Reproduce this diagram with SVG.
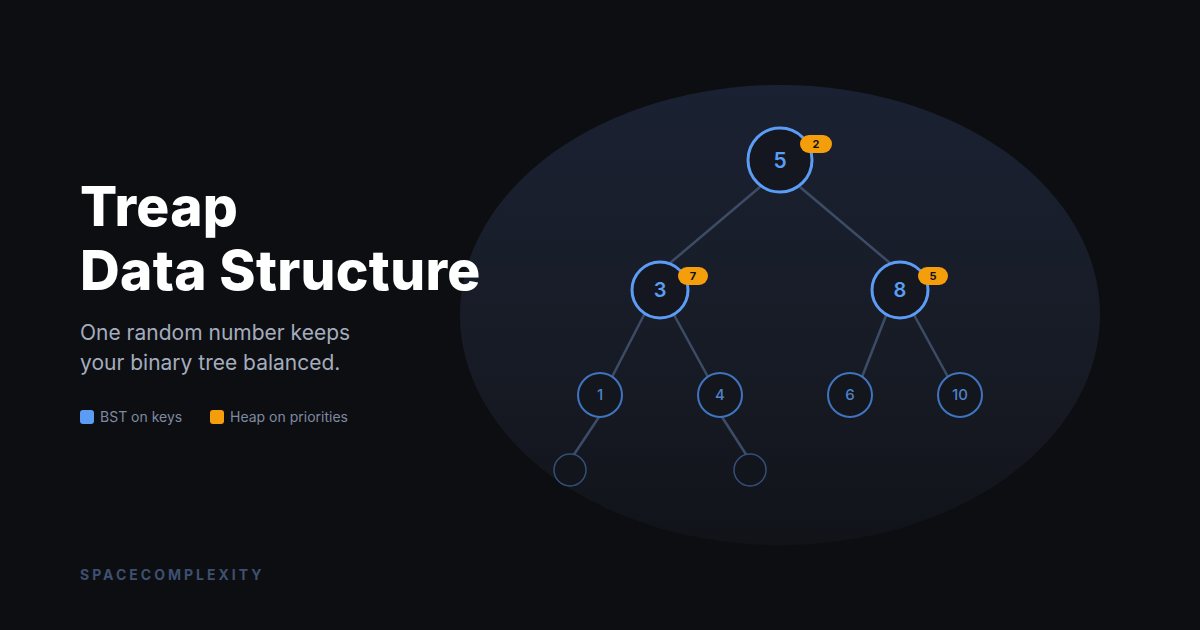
<svg xmlns="http://www.w3.org/2000/svg" width="1200" height="630" viewBox="0 0 1200 630">
<defs>
<linearGradient id="eg" x1="0" y1="0" x2="0" y2="1">
<stop offset="0" stop-color="#1a2132"/><stop offset="0.6" stop-color="#171b25"/><stop offset="1" stop-color="#111319"/>
</linearGradient>
<style>
.t{font-family:Inter,"Liberation Sans",sans-serif}
.e{stroke:#3d4c66;stroke-width:2.5;fill:none}
.n1{fill:#14171f;stroke:#5b9cf5;stroke-width:3}
.n2{fill:#13161d;stroke:#3f74c0;stroke-width:2}
.n3{fill:#12151c;stroke:#34507a;stroke-width:1.5}
.k{fill:#5b9cf5;font-weight:600;text-anchor:middle}
.k2{fill:#4f82c8;font-weight:500;text-anchor:middle;font-size:15px}
.b{fill:#f59e0b}
.bt{fill:#111;font-size:11px;font-weight:700;text-anchor:middle}
</style>
</defs>
<rect width="1200" height="630" fill="#0d0e12"/>
<ellipse cx="780" cy="315" rx="320" ry="230" fill="url(#eg)"/>
<text class="t" x="80" y="226" font-size="55" font-weight="800" letter-spacing="0.3" fill="#ffffff">Treap</text>
<text class="t" x="80" y="290" font-size="55" font-weight="800" letter-spacing="0.3" fill="#ffffff">Data Structure</text>
<text class="t" x="80" y="340" font-size="21" fill="#a3adbd">One random number keeps</text>
<text class="t" x="80" y="370" font-size="21" fill="#a3adbd">your binary tree balanced.</text>
<rect x="80" y="410" width="14" height="14" rx="3" fill="#5b9cf5"/>
<text class="t" x="100" y="422" font-size="14" fill="#7d8aa0">BST on keys</text>
<rect x="210" y="410" width="14" height="14" rx="3" fill="#f59e0b"/>
<text class="t" x="230" y="422" font-size="14" fill="#7d8aa0">Heap on priorities</text>
<text class="t" x="80" y="580" font-size="14" font-weight="700" letter-spacing="3" fill="#3e5070">SPACECOMPLEXITY</text>
<g id="edges">
<line class="e" x1="760" y1="187" x2="670" y2="263"/>
<line class="e" x1="800" y1="187" x2="890" y2="263"/>
<line class="e" x1="645" y1="313" x2="612" y2="377"/>
<line class="e" x1="673" y1="313" x2="708" y2="377"/>
<line class="e" x1="887" y1="313" x2="862" y2="377"/>
<line class="e" x1="913" y1="313" x2="948" y2="377"/>
<line class="e" x1="599" y1="417" x2="571" y2="459"/>
<line class="e" x1="722" y1="417" x2="749" y2="459"/>
</g>
<g id="n5"><circle class="n1" cx="780" cy="160" r="32"/><text class="t k" x="780" y="168" font-size="21">5</text>
<rect class="b" x="800" y="135" width="32" height="18" rx="9"/><text class="t bt" x="816" y="148">2</text></g>
<g id="n3"><circle class="n1" cx="660" cy="290" r="28"/><text class="t k" x="660" y="297" font-size="20">3</text>
<rect class="b" x="678" y="267" width="30" height="18" rx="9"/><text class="t bt" x="693" y="280">7</text></g>
<g id="n8"><circle class="n1" cx="900" cy="290" r="28"/><text class="t k" x="900" y="297" font-size="20">8</text>
<rect class="b" x="918" y="267" width="30" height="18" rx="9"/><text class="t bt" x="933" y="280">5</text></g>
<g id="n1"><circle class="n2" cx="600" cy="395" r="22"/><text class="t k2" x="600" y="400">1</text></g>
<g id="n4"><circle class="n2" cx="720" cy="395" r="22"/><text class="t k2" x="720" y="400">4</text></g>
<g id="n6"><circle class="n2" cx="850" cy="395" r="22"/><text class="t k2" x="850" y="400">6</text></g>
<g id="n10"><circle class="n2" cx="960" cy="395" r="22"/><text class="t k2" x="960" y="400">10</text></g>
<g id="e1"><circle class="n3" cx="570" cy="470" r="16"/></g>
<g id="e2"><circle class="n3" cx="750" cy="470" r="16"/></g>
</svg>
